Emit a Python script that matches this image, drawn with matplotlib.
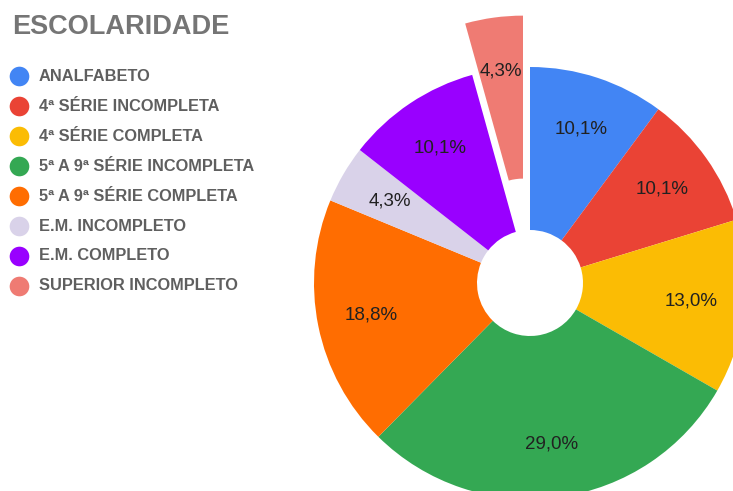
# Pie (donut) chart of schooling levels, Google Sheets style

import numpy as np
import matplotlib.pyplot as plt

categories = ['ANALFABETO', '4ª SÉRIE INCOMPLETA', '4ª SÉRIE COMPLETA',
              '5ª A 9ª SÉRIE INCOMPLETA', '5ª A 9ª SÉRIE COMPLETA',
              'E.M. INCOMPLETO', 'E.M. COMPLETO', 'SUPERIOR INCOMPLETO']
percentages = [10.1, 10.1, 13.0, 29.0, 18.8, 4.3, 10.1, 4.3]
colors = ['#4285F4', '#EA4335', '#FBBC04', '#34A853', '#FF6D01',
          '#D9D2E9', '#9900FF', '#EF7B73']
explode = [0, 0, 0, 0, 0, 0, 0, 0.24]

plt.rcParams['font.family'] = ['Liberation Sans', 'DejaVu Sans']

W, H = 733, 491
fig = plt.figure(figsize=(W / 100, H / 100), dpi=100)
ax = fig.add_axes([0, 0, 1, 1])

# work in pixel units, y measured upward
cx, cy, r, hole = 530, H - 283, 216, 53

labels_pct = [f'{p:.1f}'.replace('.', ',') + '%' for p in percentages]
# matplotlib's explode is in data units, so scale by the radius
wedges, texts = ax.pie(percentages, colors=colors,
                       explode=[e * r for e in explode],
                       startangle=90, counterclock=False,
                       center=(cx, cy), radius=r,
                       wedgeprops=dict(linewidth=0, width=r - hole))
for w, lab in zip(wedges, labels_pct):
    ang = np.deg2rad((w.theta1 + w.theta2) / 2)
    wc = w.center
    d = 0.75 * r
    ax.text(wc[0] + d * np.cos(ang), wc[1] + d * np.sin(ang), lab,
            ha='center', va='center', fontsize=13.5, color='#212121')

ax.set_xlim(0, W)
ax.set_ylim(0, H)
ax.set_aspect('auto')
ax.axis('off')

# title
fig.text(12 / W, 1 - 27 / H, 'ESCOLARIDADE', fontsize=19.5, fontweight='bold',
         color='#757575', ha='left', va='center')

# legend
for i, (cat, col) in enumerate(zip(categories, colors)):
    y = H - (76 + 30 * i)
    ax.scatter([19], [y], s=200, color=col, linewidths=0, clip_on=False)
    ax.text(39, y, cat, fontsize=11.8, fontweight='bold', color='#5f5f5f',
            ha='left', va='center')

fig.savefig('out.png', dpi=100)
